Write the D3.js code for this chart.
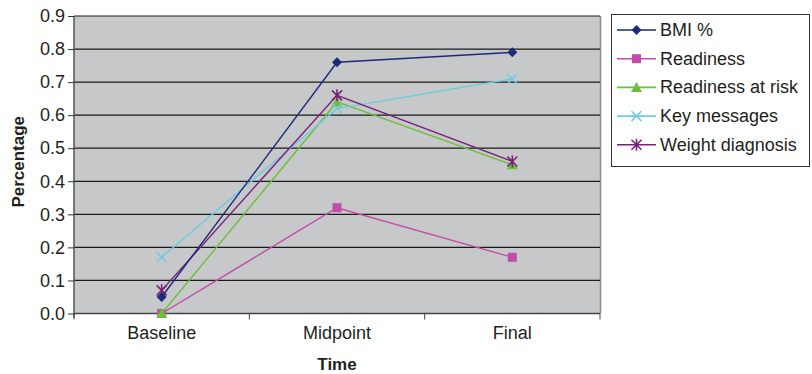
<!DOCTYPE html>
<html><head><meta charset="utf-8">
<script src="https://cdn.jsdelivr.net/npm/d3@7"></script>
<style>body{margin:0;background:#fff;}svg{display:block;font-family:"Liberation Sans",Arial,sans-serif;}</style>
</head><body><svg id="c" width="812" height="374"></svg>
<script>
const categories = ["Baseline", "Midpoint", "Final"];
const seriesNames = ["BMI %", "Readiness", "Readiness at risk", "Key messages", "Weight diagnosis"];
const bmi = [0.05, 0.76, 0.79];
const readiness = [0.0, 0.32, 0.17];
const readinessAtRisk = [0.0, 0.64, 0.45];
const keyMessages = [0.17, 0.62, 0.71];
const weightDiagnosis = [0.07, 0.66, 0.46];
const yTicks = [0, 0.1, 0.2, 0.3, 0.4, 0.5, 0.6, 0.7, 0.8, 0.9];

const seriesValues = [bmi, readiness, readinessAtRisk, keyMessages, weightDiagnosis];
const colors = ["#1f2a7a", "#c24ca8", "#6cbf3c", "#6dcde0", "#7a2279"];
const symbols = ["diamond", "square", "triangle", "x", "star"];

const svg = d3.select("#c");
const L = 74, R = 600, T = 16, B = 313.5;
const x = d3.scaleBand().domain(categories).range([L, R]);
const y = d3.scaleLinear().domain([0, 0.9]).range([B, T]);
const FS = 18;

svg.append("rect").attr("x", L).attr("y", T).attr("width", R - L).attr("height", B - T)
  .attr("fill", "#c7c8ca");
svg.append("line").attr("x1", R + 0.5).attr("x2", R + 0.5).attr("y1", T).attr("y2", B)
  .attr("stroke", "#8a8a8a").attr("stroke-width", 1.5);

svg.append("g").selectAll("line").data(yTicks.slice(1)).join("line")
  .attr("x1", L).attr("x2", R).attr("y1", d => y(d)).attr("y2", d => y(d))
  .attr("stroke", "#1a1a1a").attr("stroke-width", 1.2);

const yAxis = d3.axisLeft(y).tickValues(yTicks).tickFormat(d3.format(".1f")).tickSize(6).tickPadding(3);
const gy = svg.append("g").attr("transform", `translate(${L},0)`).call(yAxis);
gy.select(".domain").attr("stroke", "#555").attr("stroke-width", 1.5).attr("d", `M0,${T}V${B+4}`);
gy.selectAll(".tick line").attr("stroke", "#333");
gy.selectAll("text").attr("font-size", FS).attr("fill", "#231f20").attr("font-family", "Liberation Sans, Arial, sans-serif");

const xAxis = d3.axisBottom(x).tickSize(0).tickPadding(13);
const gx = svg.append("g").attr("transform", `translate(0,${B})`).call(xAxis);
gx.select(".domain").attr("stroke", "#444").attr("stroke-width", 1.5).attr("d", `M${L},0H${R}`);
gx.selectAll("text").attr("font-size", FS).attr("fill", "#231f20").attr("font-family", "Liberation Sans, Arial, sans-serif");
const bounds = categories.map(c => x(c)).concat([R]);
svg.append("g").selectAll("line").data(bounds).join("line")
  .attr("x1", d => d).attr("x2", d => d).attr("y1", B).attr("y2", B + 6)
  .attr("stroke", "#444").attr("stroke-width", 1);

svg.append("text").attr("transform", `translate(24,${(T + B) / 2 - 3}) rotate(-90)`)
  .attr("text-anchor", "middle").attr("font-size", 17).attr("font-weight", "bold").attr("fill", "#231f20")
  .text("Percentage");
svg.append("text").attr("x", 337).attr("y", 370)
  .attr("text-anchor", "middle").attr("font-size", 17).attr("font-weight", "bold").attr("fill", "#231f20")
  .text("Time");

const cx = c => x(c) + x.bandwidth() / 2;
const line = d3.line().x((d, i) => cx(categories[i])).y(d => y(d));

function drawMarker(g, type, color, px, py) {
  if (type === "diamond") {
    g.append("path").attr("d", `M${px},${py-5}L${px+5},${py}L${px},${py+5}L${px-5},${py}Z`).attr("fill", color);
  } else if (type === "square") {
    g.append("rect").attr("x", px - 4.5).attr("y", py - 4.5).attr("width", 9).attr("height", 9).attr("fill", color);
  } else if (type === "triangle") {
    g.append("path").attr("d", `M${px},${py-5.5}L${px+5.5},${py+4.5}L${px-5.5},${py+4.5}Z`).attr("fill", color);
  } else if (type === "x") {
    g.append("path").attr("d", `M${px-5},${py-5}L${px+5},${py+5}M${px-5},${py+5}L${px+5},${py-5}`)
      .attr("stroke", color).attr("stroke-width", 1.5).attr("fill", "none");
  } else if (type === "star") {
    g.append("path").attr("d", `M${px-5},${py-5}L${px+5},${py+5}M${px-5},${py+5}L${px+5},${py-5}M${px},${py-6}L${px},${py+6}`)
      .attr("stroke", color).attr("stroke-width", 1.6).attr("fill", "none");
  }
}

const drawOrder = [1, 2, 3, 4, 0];
drawOrder.forEach(si => {
  const g = svg.append("g");
  g.append("path").attr("d", line(seriesValues[si])).attr("fill", "none")
    .attr("stroke", colors[si]).attr("stroke-width", 1.4);
  seriesValues[si].forEach((v, i) => drawMarker(g, symbols[si], colors[si], cx(categories[i]), y(v)));
});

const lg = svg.append("g");
lg.append("rect").attr("x", 611.5).attr("y", 14.5).attr("width", 198).attr("height", 152)
  .attr("fill", "#fff").attr("stroke", "#333").attr("stroke-width", 1);
seriesNames.forEach((n, i) => {
  const ly = 30 + i * 28.7;
  lg.append("line").attr("x1", 617).attr("x2", 656).attr("y1", ly).attr("y2", ly)
    .attr("stroke", colors[i]).attr("stroke-width", 1.6);
  drawMarker(lg, symbols[i], colors[i], 636.5, ly);
  lg.append("text").attr("x", 660).attr("y", ly + 6).attr("font-size", FS).attr("fill", "#231f20").text(n);
});
</script></body></html>
